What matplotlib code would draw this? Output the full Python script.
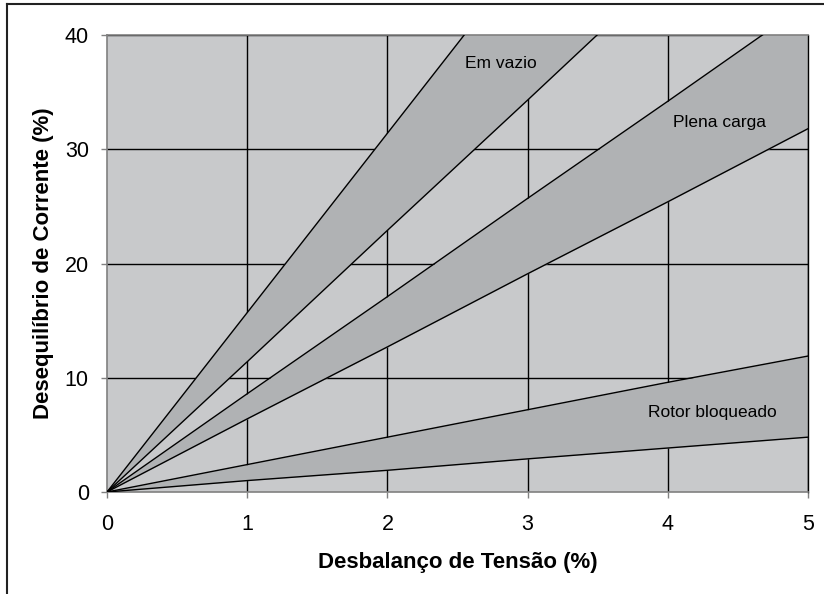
import matplotlib
matplotlib.use("Agg")
import matplotlib.pyplot as plt
from matplotlib.lines import Line2D

plt.rcParams['font.family'] = ['Liberation Sans', 'DejaVu Sans']

x = [0, 1, 2, 3, 4, 5]
vazio_upper = [0, 15.7, 31.4, 47.1, 62.8, 78.5]
vazio_lower = [0, 11.4, 22.9, 34.3, 45.8, 57.2]
plena_upper = [0, 8.6, 17.1, 25.7, 34.2, 42.8]
plena_lower = [0, 6.4, 12.7, 19.1, 25.4, 31.8]
rotor_upper = [0, 2.4, 4.8, 7.2, 9.6, 11.9]
rotor_lower = [0, 1.0, 1.9, 2.9, 3.85, 4.8]

labels = ["Em vazio", "Plena carga", "Rotor bloqueado"]
label_pos = [(2.81, 37.5), (4.37, 32.3), (4.32, 7.0)]

xticks = [0, 1, 2, 3, 4, 5]
yticks = [0, 10, 20, 30, 40]

bg = '#c8c9cb'
band = '#b0b2b4'

fig = plt.figure(figsize=(8.24, 5.94), dpi=100)
ax = fig.add_axes([107/824, 1-492/594, (808-107)/824, (492-35)/594])
ax.set_facecolor(bg)
ax.set_xlim(0, 5)
ax.set_ylim(0, 40)

for lo, hi in [(vazio_lower, vazio_upper), (plena_lower, plena_upper), (rotor_lower, rotor_upper)]:
    ax.fill_between(x, lo, hi, color=band, zorder=1, linewidth=0)
    ax.plot(x, lo, color='black', lw=1.0, zorder=3)
    ax.plot(x, hi, color='black', lw=1.0, zorder=3)

for t in xticks[1:]:
    ax.axvline(t, color='black', lw=1.0, zorder=0.5)
for t in yticks[1:]:
    ax.axhline(t, color='black', lw=1.0, zorder=0.5)

for s in ['left', 'bottom', 'top']:
    ax.spines[s].set_color('#808080')
    ax.spines[s].set_linewidth(1.2)
ax.spines['right'].set_color('black')
ax.spines['right'].set_linewidth(1.0)

ax.set_xticks(xticks)
ax.set_yticks(yticks)
ax.tick_params(axis='both', direction='out', length=4.5, width=1, color='#808080',
               labelsize=15.5)
ax.tick_params(axis='x', pad=11.5)
ax.tick_params(axis='y', pad=8.6)

for lab, (lx, ly) in zip(labels, label_pos):
    ax.text(lx, ly, lab, ha='center', va='center', fontsize=12.5, zorder=4)

ax.set_xlabel('Desbalanço de Tensão (%)', fontsize=16, fontweight='bold', labelpad=12)
ax.set_ylabel('Desequilíbrio de Corrente (%)', fontsize=16, fontweight='bold', labelpad=8)

fig.add_artist(Line2D([7/824, 7/824], [0, 1-4/594], transform=fig.transFigure, color='#222222', lw=1.5))
fig.add_artist(Line2D([7/824, 1], [1-4/594, 1-4/594], transform=fig.transFigure, color='#222222', lw=1.5))

fig.savefig('out.png', dpi=100)
